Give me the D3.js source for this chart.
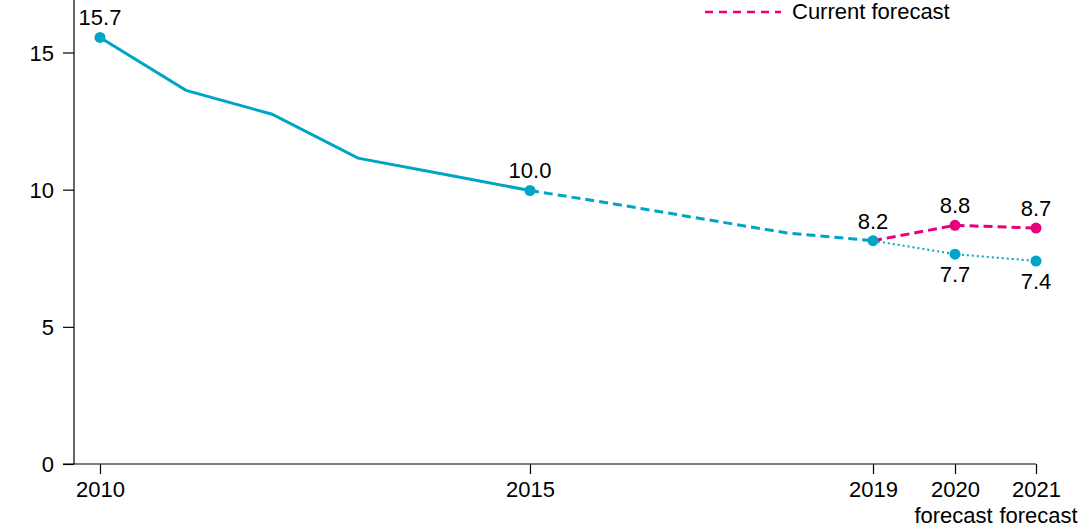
<!DOCTYPE html>
<html>
<head>
<meta charset="utf-8">
<script src="https://cdn.jsdelivr.net/npm/d3@7"></script>
<style>
  body { margin: 0; background: #fff; }
  text { font-family: "Liberation Sans", Arial, Helvetica, sans-serif; }
</style>
</head>
<body>
<div id="chart"></div>
<script>
// values
var actualYears = [2010, 2011, 2012, 2013, 2014, 2015];
var actualValues = [15.55, 13.62, 12.75, 11.15, 10.56, 9.97];

var prelimYears = [2015, 2016, 2017, 2018, 2019];
var prelimValues = [9.97, 9.47, 8.94, 8.42, 8.14];

var pastForecastYears = [2019, 2020, 2021];
var pastForecastValues = [8.14, 7.65, 7.40];

var currentForecastYears = [2019, 2020, 2021];
var currentForecastValues = [8.14, 8.70, 8.60];

// labelled points
var labelPoints = [
    {year: 2010, value: 15.55, text: "15.7", series: "blue", pos: "above"},
    {year: 2015, value: 9.97, text: "10.0", series: "blue", pos: "above"},
    {year: 2019, value: 8.14, text: "8.2", series: "blue", pos: "above"},
    {year: 2020, value: 7.65, text: "7.7", series: "blue", pos: "below"},
    {year: 2021, value: 7.40, text: "7.4", series: "blue", pos: "below"},
    {year: 2020, value: 8.70, text: "8.8", series: "pink", pos: "above"},
    {year: 2021, value: 8.60, text: "8.7", series: "pink", pos: "above"}
];

var xTicks = [2010, 2015, 2019, 2020, 2021];
var xTickSub = {2020: "forecast", 2021: "forecast"};
var yTicks = [0, 5, 10, 15];

var blue = "#00a5c6", pink = "#e6007e";
var fontSize = "22px";

var width = 1092, height = 530;

var svg = d3.select("#chart").append("svg")
    .attr("width", width)
    .attr("height", height);

var x = d3.scaleLinear()
    .domain([2010, 2015, 2019, 2020, 2021])
    .range([100, 530, 873, 955, 1036]);

var y = d3.scaleLinear()
    .domain([0, 15])
    .range([464, 52.5]);

// y axis
var yAxis = svg.append("g")
    .attr("transform", "translate(74,0)")
    .call(d3.axisLeft(y).tickValues(yTicks).tickSize(11).tickPadding(9).tickFormat(d3.format("d")));
yAxis.select(".domain").attr("d", "M0,0V" + y(0));
yAxis.selectAll("text").style("font-size", fontSize).attr("dy", "0.35em");
yAxis.selectAll("line, path").attr("stroke", "#000").attr("stroke-width", 1.2);

// x axis
var xAxis = svg.append("g")
    .attr("transform", "translate(0," + y(0) + ")")
    .call(d3.axisBottom(x).tickValues(xTicks).tickSize(10).tickPadding(7).tickFormat(d3.format("d")));
xAxis.select(".domain").attr("d", "M63,0H" + x(2021));
xAxis.selectAll("line, path").attr("stroke", "#000").attr("stroke-width", 1.2);
xAxis.selectAll("text").style("font-size", fontSize);
xAxis.selectAll(".tick").filter(function(d) { return xTickSub[d]; })
    .append("text")
    .attr("fill", "#000")
    .attr("y", 59)
    .attr("dx", function(d) { return d === 2020 ? -2 : 2; })
    .attr("text-anchor", "middle")
    .style("font-size", fontSize)
    .text(function(d) { return xTickSub[d]; });

var line = d3.line()
    .x(function(d) { return x(d[0]); })
    .y(function(d) { return y(d[1]); });

function pairs(years, values) {
    return years.map(function(yr, i) { return [yr, values[i]]; });
}

svg.append("path")
    .datum(pairs(pastForecastYears, pastForecastValues))
    .attr("d", line)
    .attr("fill", "none")
    .attr("stroke", blue)
    .attr("stroke-width", 2)
    .attr("stroke-dasharray", "2,3");

svg.append("path")
    .datum(pairs(actualYears, actualValues))
    .attr("d", line)
    .attr("fill", "none")
    .attr("stroke", blue)
    .attr("stroke-width", 3);

svg.append("path")
    .datum(pairs(prelimYears, prelimValues))
    .attr("d", line)
    .attr("fill", "none")
    .attr("stroke", blue)
    .attr("stroke-width", 3)
    .attr("stroke-dasharray", "9,5");

svg.append("path")
    .datum(pairs(currentForecastYears, currentForecastValues))
    .attr("d", line)
    .attr("fill", "none")
    .attr("stroke", pink)
    .attr("stroke-width", 3)
    .attr("stroke-dasharray", "9,5");

svg.selectAll(".dot")
    .data(labelPoints)
    .enter().append("circle")
    .attr("class", "dot")
    .attr("cx", function(d) { return x(d.year); })
    .attr("cy", function(d) { return y(d.value); })
    .attr("r", 5.5)
    .attr("fill", function(d) { return d.series === "pink" ? pink : blue; });

svg.selectAll(".lbl")
    .data(labelPoints)
    .enter().append("text")
    .attr("class", "lbl")
    .attr("x", function(d) { return x(d.year); })
    .attr("y", function(d) { return y(d.value) + (d.pos === "above" ? -12 : 28); })
    .attr("text-anchor", "middle")
    .style("font-size", fontSize)
    .text(function(d) { return d.text; });

// legend
var legend = svg.append("g").attr("transform", "translate(705,12)");
legend.append("line")
    .attr("x1", 0).attr("x2", 76)
    .attr("stroke", pink)
    .attr("stroke-width", 2.5)
    .attr("stroke-dasharray", "8,6");
legend.append("text")
    .attr("x", 87)
    .attr("y", 7)
    .style("font-size", fontSize)
    .text("Current forecast");
</script>
</body>
</html>
